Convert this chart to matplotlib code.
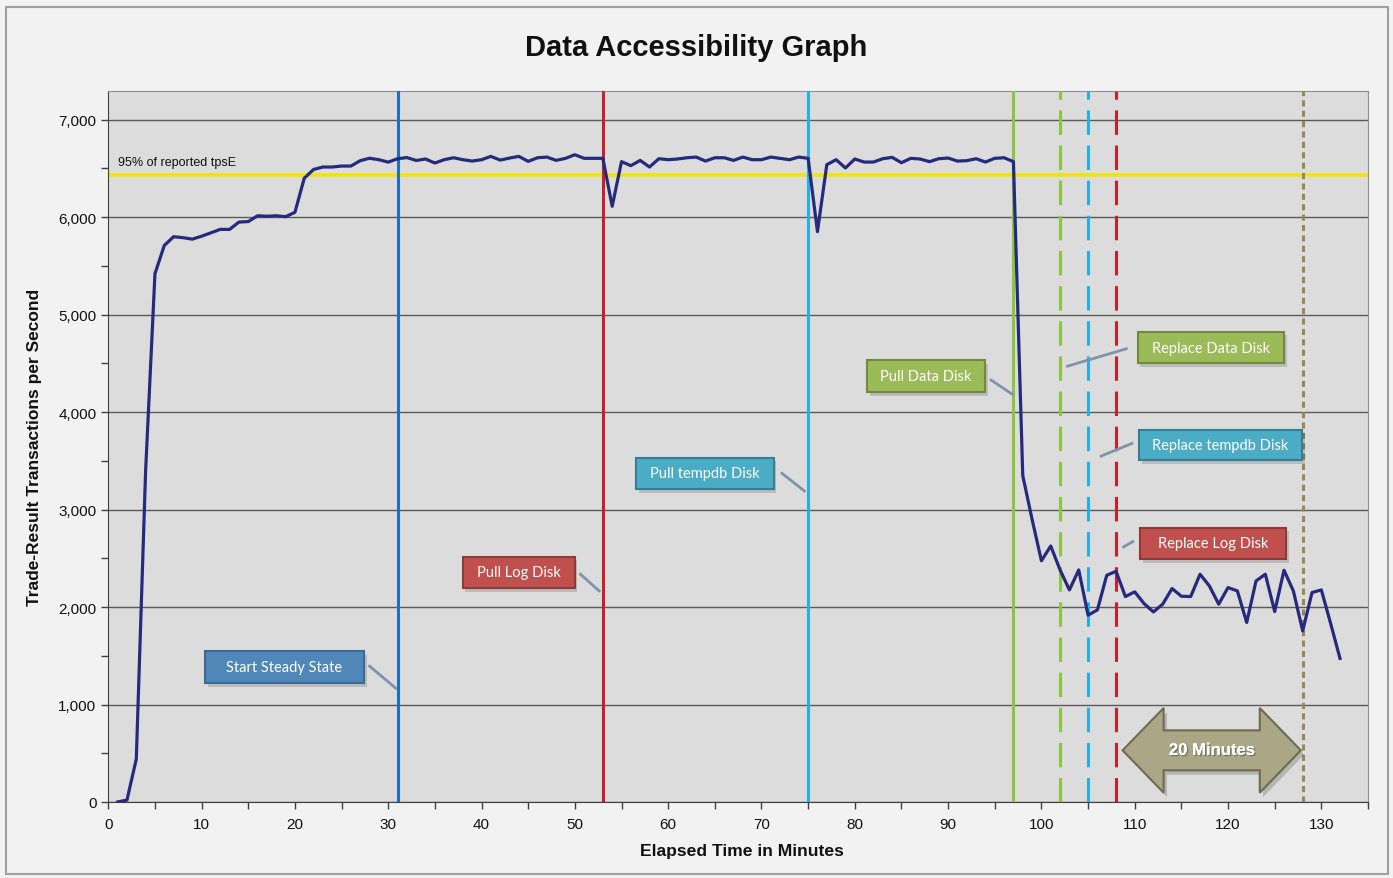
import matplotlib
matplotlib.use('Agg')
import matplotlib.pyplot as plt
import matplotlib.patheffects as pe
from matplotlib.patches import Rectangle, Polygon
from matplotlib.ticker import MultipleLocator, FuncFormatter

plt.rcParams['font.family'] = ['Liberation Sans', 'DejaVu Sans']

# elapsed minute and measured transactions per second
minutes = list(range(1, 133))
tps = [
    0, 20, 440, 3400, 5420, 5710, 5800, 5790, 5775, 5805,
    5840, 5875, 5875, 5950, 5955, 6015, 6010, 6015, 6005, 6050,
    6400, 6490, 6515, 6515, 6525, 6525, 6580, 6605, 6590, 6565,
    6600, 6612, 6582, 6597, 6556, 6590, 6610, 6590, 6576, 6590,
    6624, 6586, 6607, 6624, 6573, 6610, 6617, 6583, 6604, 6641,
    6604, 6604, 6604, 6112, 6570, 6529, 6583, 6515, 6600, 6590,
    6597, 6610, 6617, 6576, 6610, 6610, 6583, 6617, 6590, 6590,
    6617, 6604, 6590, 6617, 6604, 5852, 6539, 6590, 6505, 6597,
    6566, 6566, 6600, 6614, 6559, 6604, 6597, 6570, 6600, 6607,
    6576, 6580, 6600, 6566, 6604, 6610, 6570, 3350, 2900, 2475,
    2627, 2381, 2176, 2381, 1917, 1971, 2326, 2367, 2108, 2156,
    2036, 1950, 2030, 2190, 2111, 2108, 2337, 2217, 2030, 2200,
    2166, 1842, 2268, 2337, 1954, 2378, 2166, 1756, 2149, 2176,
    1830, 1473,
]

threshold = 6436
threshold_label = '95% of reported tpsE'

# event markers
event_times = [31, 53, 75, 97, 102, 105, 108, 128]
event_colors = ['#1f6fbf', '#c8202a', '#22b0e6', '#8cc63f',
                '#8cc63f', '#22b0e6', '#c8202a', '#948a54']
event_dashes = [None, None, None, None, (8, 3.5), (8, 3.5), (8, 3.5), (2, 1.4)]

notes = ['Start Steady State', 'Pull Log Disk', 'Pull tempdb Disk',
         'Pull Data Disk', 'Replace Data Disk', 'Replace tempdb Disk',
         'Replace Log Disk']
note_colors = ['#4f87b8', '#c0504d', '#4bacc6', '#9bbb59',
               '#9bbb59', '#4bacc6', '#c0504d']
note_edges = ['#3b6a94', '#8e3a38', '#367f93', '#72893f',
              '#72893f', '#367f93', '#8e3a38']
# box extents (x0, x1, y0, y1) and leader line (xa, ya, xb, yb)
note_boxes = [(10.35, 27.4, 1220, 1548), (37.97, 49.97, 2192, 2518),
              (56.6, 71.3, 3208, 3533), (81.3, 93.97, 4202, 4530),
              (110.3, 126.0, 4500, 4824), (110.5, 127.9, 3505, 3816),
              (110.6, 126.2, 2490, 2816)]
note_leaders = [(28.0, 1394, 30.8, 1168), (50.6, 2337, 52.6, 2166),
                (72.2, 3372, 74.6, 3191), (94.6, 4330, 96.9, 4182),
                (109.1, 4650, 102.8, 4472), (109.7, 3679, 106.4, 3549),
                (109.8, 2672, 108.8, 2617)]

span_label = '20 Minutes'

fig = plt.figure(figsize=(13.93, 8.79), dpi=100, facecolor='#f2f2f2')
fig.patches.append(Rectangle((6 / 1393, 4 / 879), 1382 / 1393, 867 / 879,
                             transform=fig.transFigure, fill=False,
                             edgecolor='#a0a0a0', linewidth=1.5))
ax = fig.add_axes([108.3 / 1393, 76 / 879, 1259.7 / 1393, 711.5 / 879])
ax.set_facecolor('#dcdcdc')

ax.set_xlim(0, 135)
ax.set_ylim(0, 7300)
ax.xaxis.set_major_locator(MultipleLocator(10))
ax.xaxis.set_minor_locator(MultipleLocator(5))
ax.yaxis.set_major_locator(MultipleLocator(1000))
ax.yaxis.set_minor_locator(MultipleLocator(500))
ax.yaxis.set_major_formatter(FuncFormatter(lambda v, p: '{:,.0f}'.format(v)))
ax.tick_params(which='both', direction='out', length=5, width=1,
               color='#404040', labelsize=11, labelcolor='#111111')
ax.tick_params(axis='x', pad=6)
ax.grid(axis='y', which='major', color='#5a5a5a', linewidth=1)
ax.set_axisbelow(True)
for side in ['left', 'bottom']:
    ax.spines[side].set_color('#404040')
for side in ['top', 'right']:
    ax.spines[side].set_color('#909090')

ax.axhline(threshold, color='#f2e600', linewidth=2.6, zorder=2)
ax.text(1.0, threshold + 130, threshold_label, fontsize=9, va='center',
        ha='left', color='#111111')

for t, c, d in zip(event_times, event_colors, event_dashes):
    ln = ax.axvline(t, color=c, linewidth=2.2, zorder=3)
    if d is not None:
        ln.set_dashes(d)

ax.plot(minutes, tps, color='#262a7c', linewidth=2.3, zorder=5)

for label, fc, ec, box, lead in zip(notes, note_colors, note_edges,
                                    note_boxes, note_leaders):
    x0, x1, y0, y1 = box
    ax.add_patch(Rectangle((x0 + 0.3, y0 - 35), x1 - x0, y1 - y0,
                           facecolor='#000000', alpha=0.15,
                           linewidth=0, zorder=6))
    ax.add_patch(Rectangle((x0, y0), x1 - x0, y1 - y0, facecolor=fc,
                           edgecolor=ec, linewidth=1.5, zorder=7))
    ax.text((x0 + x1) / 2, (y0 + y1) / 2, label, color='white',
            fontsize=10.5, family=['Lato', 'DejaVu Sans'],
            ha='center', va='center', zorder=8)
    ax.plot([lead[0], lead[2]], [lead[1], lead[3]], color='#7f93ab',
            linewidth=2, zorder=6)

# double headed arrow spanning the last 20 minutes
t0, t1 = 108.7, 127.8
vc, hs, hh, hl = 530, 205, 435, 4.4
arrow_pts = [(t0, vc), (t0 + hl, vc + hh), (t0 + hl, vc + hs),
             (t1 - hl, vc + hs), (t1 - hl, vc + hh), (t1, vc),
             (t1 - hl, vc - hh), (t1 - hl, vc - hs), (t0 + hl, vc - hs),
             (t0 + hl, vc - hh)]
shadow_pts = [(x + 0.35, y - 45) for x, y in arrow_pts]
ax.add_patch(Polygon(shadow_pts, closed=True, facecolor='#000000',
                     alpha=0.18, linewidth=0, zorder=6))
ax.add_patch(Polygon(arrow_pts, closed=True, facecolor='#aba686',
                     edgecolor='#6f6b52', linewidth=1.5, zorder=7))
ax.text((t0 + t1) / 2, vc, span_label, color='white', fontsize=12,
        fontweight='bold', ha='center', va='center', zorder=8,
        path_effects=[pe.withSimplePatchShadow(offset=(1, -1),
                                               shadow_rgbFace='#555544',
                                               alpha=0.6), pe.Normal()])

fig.text(0.5, 1 - 48 / 879, 'Data Accessibility Graph', fontsize=21,
         fontweight='bold', ha='center', va='center', color='#111111')
fig.text(742 / 1393, 1 - 852 / 879, 'Elapsed Time in Minutes', fontsize=12.6,
         fontweight='bold', ha='center', va='center', color='#111111')
fig.text(35 / 1393, 1 - 447 / 879, 'Trade-Result Transactions per Second',
         fontsize=12.5, fontweight='bold', ha='center', va='center',
         rotation=90, color='#111111')

fig.savefig('out.png', dpi=100, facecolor=fig.get_facecolor())
